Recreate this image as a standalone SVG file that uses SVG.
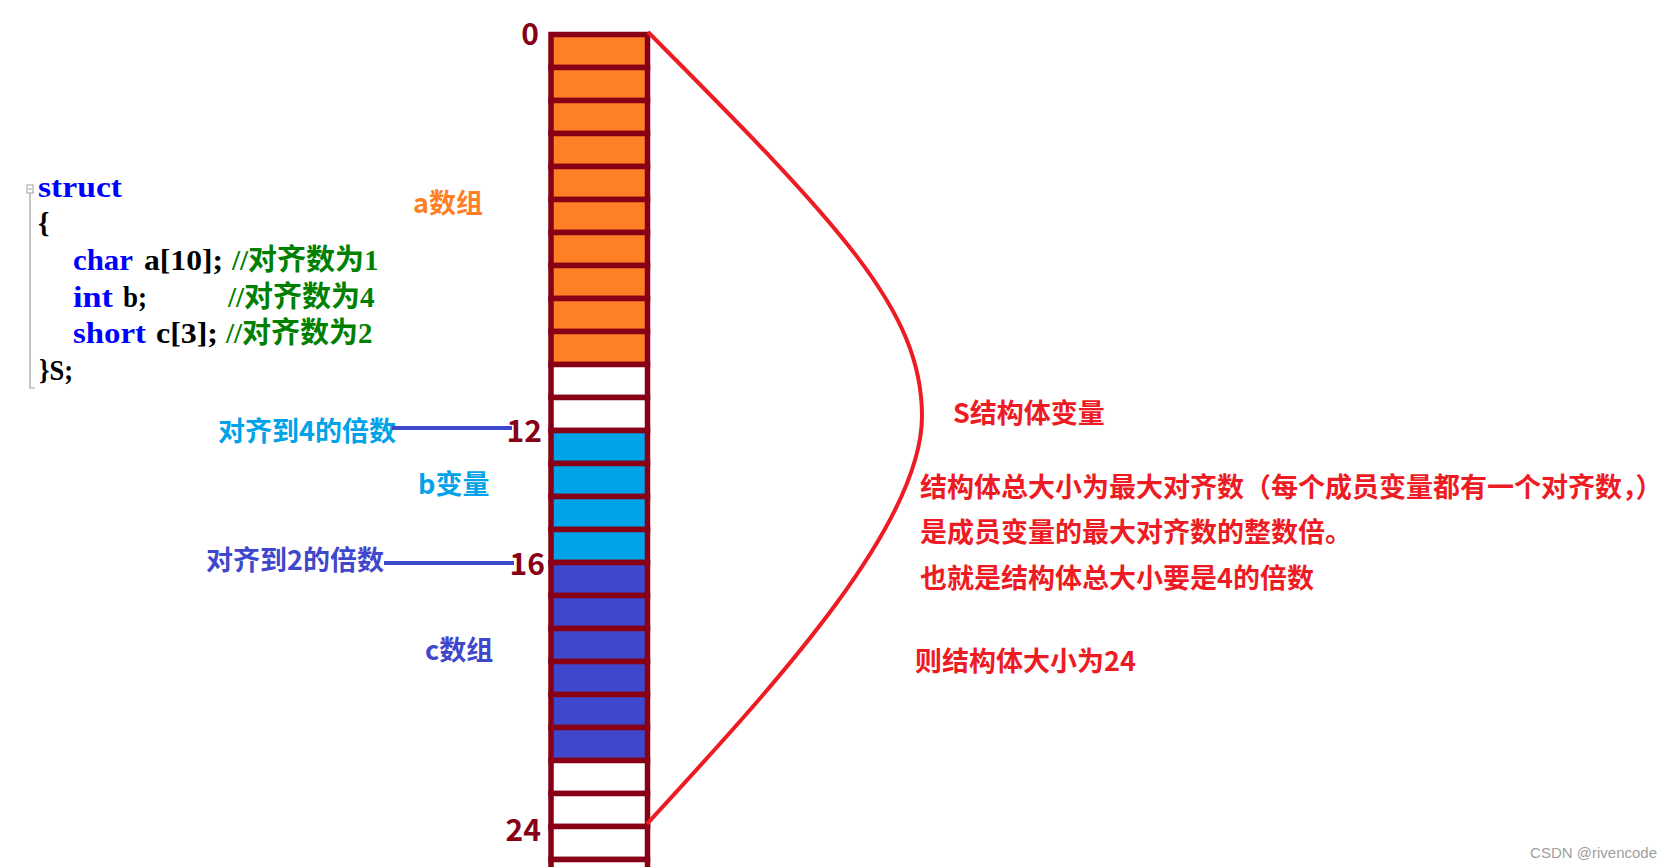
<svg xmlns="http://www.w3.org/2000/svg" width="1673" height="867" viewBox="0 0 1673 867">
<style>
.cell{stroke:#880015;stroke-width:5.5}
.or{fill:#FF7F27}.bl{fill:#00A2E8}.in{fill:#3F48CC}.wh{fill:#FFFFFF}
.num{font-family:"Noto Sans CJK SC","Noto Sans",sans-serif;font-weight:bold;font-size:30px;fill:#880015;text-anchor:end}
.lbl{font-family:"Noto Sans CJK SC","Noto Sans",sans-serif;font-weight:bold;font-size:27px}
.red{font-family:"Noto Sans CJK SC","Noto Sans",sans-serif;font-weight:bold;font-size:27px;fill:#ED1C24}
.code{font-family:"Liberation Serif","Noto Sans CJK SC",serif;font-weight:bold;font-size:29px}
.kw{fill:#0000FF}.tx{fill:#000000}.cm{fill:#008000}
.conn{stroke:#3F48CC;stroke-width:4;fill:none}
</style>
<rect width="1673" height="867" fill="#FFFFFF"/>

<g id="code">
<rect x="27" y="185" width="6" height="8" fill="none" stroke="#A0A0A0" stroke-width="1"/>
<line x1="28.5" y1="189" x2="31.5" y2="189" stroke="#808080" stroke-width="1"/>
<polyline points="30,193 30,388 35,388" fill="none" stroke="#A0A0A0" stroke-width="1.2"/>
<text class="code kw" x="38" y="197" textLength="84" lengthAdjust="spacingAndGlyphs">struct</text>
<text class="code tx" x="38" y="233">{</text>
<text class="code kw" x="73" y="270" textLength="60" lengthAdjust="spacingAndGlyphs">char</text>
<text class="code tx" x="144" y="270" textLength="79" lengthAdjust="spacingAndGlyphs">a[10];</text>
<text class="code cm" x="232" y="270">//对齐数为1</text>
<text class="code kw" x="73" y="307" textLength="40" lengthAdjust="spacingAndGlyphs">int</text>
<text class="code tx" x="123" y="307" textLength="24" lengthAdjust="spacingAndGlyphs">b;</text>
<text class="code cm" x="228" y="307">//对齐数为4</text>
<text class="code kw" x="73" y="343" textLength="73" lengthAdjust="spacingAndGlyphs">short</text>
<text class="code tx" x="156" y="343" textLength="62" lengthAdjust="spacingAndGlyphs">c[3];</text>
<text class="code cm" x="226" y="343">//对齐数为2</text>
<text class="code tx" x="39" y="380" textLength="34" lengthAdjust="spacingAndGlyphs">}S;</text>
</g>

<g id="memory">
<rect class="cell or" x="551" y="34.5" width="96.5" height="33"/>
<rect class="cell or" x="551" y="67.5" width="96.5" height="33"/>
<rect class="cell or" x="551" y="100.5" width="96.5" height="33"/>
<rect class="cell or" x="551" y="133.5" width="96.5" height="33"/>
<rect class="cell or" x="551" y="166.5" width="96.5" height="33"/>
<rect class="cell or" x="551" y="199.5" width="96.5" height="33"/>
<rect class="cell or" x="551" y="232.5" width="96.5" height="33"/>
<rect class="cell or" x="551" y="265.5" width="96.5" height="33"/>
<rect class="cell or" x="551" y="298.5" width="96.5" height="33"/>
<rect class="cell or" x="551" y="331.5" width="96.5" height="33"/>
<rect class="cell wh" x="551" y="364.5" width="96.5" height="33"/>
<rect class="cell wh" x="551" y="397.5" width="96.5" height="33"/>
<rect class="cell bl" x="551" y="430.5" width="96.5" height="33"/>
<rect class="cell bl" x="551" y="463.5" width="96.5" height="33"/>
<rect class="cell bl" x="551" y="496.5" width="96.5" height="33"/>
<rect class="cell bl" x="551" y="529.5" width="96.5" height="33"/>
<rect class="cell in" x="551" y="562.5" width="96.5" height="33"/>
<rect class="cell in" x="551" y="595.5" width="96.5" height="33"/>
<rect class="cell in" x="551" y="628.5" width="96.5" height="33"/>
<rect class="cell in" x="551" y="661.5" width="96.5" height="33"/>
<rect class="cell in" x="551" y="694.5" width="96.5" height="33"/>
<rect class="cell in" x="551" y="727.5" width="96.5" height="33"/>
<rect class="cell wh" x="551" y="760.5" width="96.5" height="33"/>
<rect class="cell wh" x="551" y="793.5" width="96.5" height="33"/>
<rect class="cell wh" x="551" y="826.5" width="96.5" height="33"/>
<rect class="cell wh" x="551" y="859.5" width="96.5" height="33"/>
</g>

<g id="offsets">
<text class="num" x="539" y="45">0</text>
<text class="num" x="542" y="442">12</text>
<text class="num" x="545" y="575">16</text>
<text class="num" x="541" y="841">24</text>
</g>

<g id="member-labels">
<text class="lbl" x="413" y="213" fill="#FF7F27">a数组</text>
<text class="lbl" x="418" y="494" fill="#00A2E8">b变量</text>
<text class="lbl" x="425" y="660" fill="#3F48CC">c数组</text>
</g>

<g id="align-labels">
<text class="lbl" x="218" y="441" fill="#00A2E8">对齐到4的倍数</text>
<text class="lbl" x="206" y="570" fill="#3F48CC">对齐到2的倍数</text>
</g>

<g id="connectors">
<line class="conn" x1="392" y1="428" x2="512" y2="428"/>
<line class="conn" x1="384" y1="563" x2="514" y2="563"/>
<path d="M648,32 C840,225 922,310 922,416 C922,530 760,700 647,824" fill="none" stroke="#ED1C24" stroke-width="4"/>
</g>

<g id="notes">
<text class="red" x="953" y="423">S结构体变量</text>
<text class="red" x="920" y="497">结构体总大小为最大对齐数（每个成员变量都有一个对齐数，）</text>
<text class="red" x="920" y="542">是成员变量的最大对齐数的整数倍。</text>
<text class="red" x="920" y="588">也就是结构体总大小要是4的倍数</text>
<text class="red" x="915" y="671">则结构体大小为24</text>
</g>

<text x="1657" y="858" text-anchor="end" font-family="Liberation Sans, sans-serif" font-size="15" fill="#A0A0A0">CSDN @rivencode</text>
</svg>
